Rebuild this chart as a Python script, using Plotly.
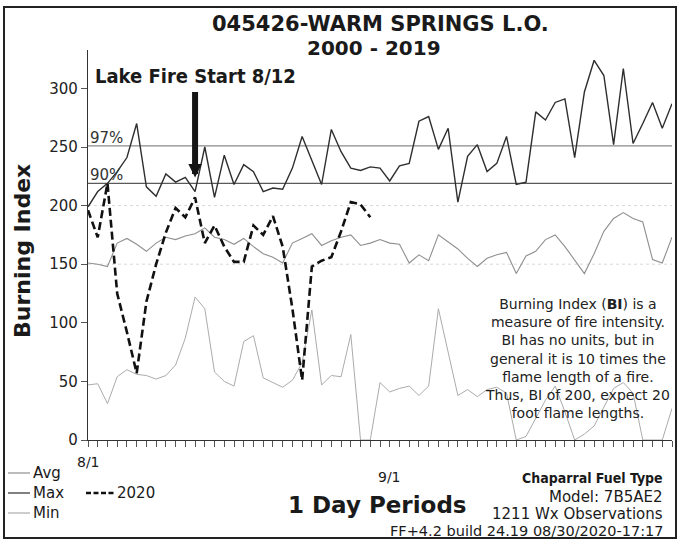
import plotly.graph_objects as go
import pandas as pd

# ---------------- data ----------------
dates = pd.date_range("2020-08-01", "2020-09-30", freq="D")

max_vals = [199, 212, 219, 229, 241, 270, 216, 208, 227, 220, 224, 212, 250, 207, 243,
            218, 235, 229, 212, 215, 214, 232, 259, 239, 218, 265, 246, 232, 230, 233,
            232, 221, 234, 236, 272, 276, 248, 266, 203, 242, 252, 229, 236, 259, 218,
            220, 280, 273, 288, 291, 241, 297, 324, 311, 252, 317, 253, 270, 288, 266, 287]

avg_vals = [151, 150, 148, 168, 172, 167, 161, 168, 173, 171, 174, 176, 181, 173, 171,
            167, 172, 165, 159, 156, 151, 168, 172, 176, 166, 170, 173, 175, 166, 168,
            171, 168, 167, 151, 158, 153, 175, 169, 163, 155, 148, 155, 158, 160, 142,
            157, 161, 171, 175, 165, 154, 142, 159, 178, 189, 194, 189, 186, 154, 151, 173]

min_vals = [47, 48, 31, 54, 60, 56, 55, 52, 55, 64, 87, 122, 112, 58, 50,
            46, 84, 89, 53, 49, 45, 51, 66, 111, 47, 55, 54, 90, 0, 0,
            49, 41, 44, 46, 38, 46, 112, 75, 38, 43, 37, 43, 45, 40, 0,
            3, 18, 34, 46, 24, 0, 5, 12, 28, 44, 49, 40, 0, 0, 0, 27]

bi_2020 = [196, 173, 219, 125, 92, 57, 118, 150, 177, 198, 190, 207, 168, 183, 165,
           152, 152, 183, 175, 191, 165, 112, 51, 148, 153, 156, 178, 203, 201, 190]

pct97 = 251
pct90 = 219
grid_levels = [150, 200]
y_ticks = [0, 50, 100, 150, 200, 250, 300]
x_labels = [("2020-08-01", "8/1"), ("2020-09-01", "9/1")]
fire_start = "2020-08-12"

info_lines = ["Burning Index (<b>BI</b>) is a", "measure of fire intensity.",
              "BI has no units, but in", "general it is 10 times the",
              "flame length of a fire.", "Thus, BI of 200, expect 20",
              "foot flame lengths."]

# ---------------- layout helpers ----------------
W, H = 679, 540
L, R, T, B = 88, 7, 50, 100
PW, PH = W - L - R, H - T - B
PX_PER_UNIT = 1.172
YMAX = PH / PX_PER_UNIT


def px(x):
    return (x - L) / PW


def py(y):
    return (H - B - y) / PH


SANS = "DejaVu Sans, Verdana, sans-serif"
NARROW = "Liberation Sans Narrow, DejaVu Sans Condensed, Arial Narrow, sans-serif"

fig = go.Figure()

fig.add_trace(go.Scatter(x=dates, y=min_vals, mode="lines", name="Min",
                         line=dict(color="#ababab", width=1), showlegend=False))
fig.add_trace(go.Scatter(x=dates, y=avg_vals, mode="lines", name="Avg",
                         line=dict(color="#8f8f8f", width=1.1), showlegend=False))
fig.add_trace(go.Scatter(x=dates, y=max_vals, mode="lines", name="Max",
                         line=dict(color="#2e2e2e", width=1.4), showlegend=False))
fig.add_trace(go.Scatter(x=dates[:len(bi_2020)], y=bi_2020, mode="lines", name="2020",
                         line=dict(color="#111111", width=2.6, dash="8px,4px"),
                         showlegend=False))

shapes = []
# percentile lines
shapes.append(dict(type="line", xref="paper", yref="y", x0=0, x1=1, y0=pct97, y1=pct97,
                   line=dict(color="#8a8a8a", width=1.2), layer="below"))
shapes.append(dict(type="line", xref="paper", yref="y", x0=0, x1=1, y0=pct90, y1=pct90,
                   line=dict(color="#5a5a5a", width=1.2), layer="below"))
for g in grid_levels:
    shapes.append(dict(type="line", xref="paper", yref="y", x0=0, x1=1, y0=g, y1=g,
                       line=dict(color="#d8d8d8", width=1, dash="dot"), layer="below"))

# legend lines
legend_items = [("Avg", "#8f8f8f", 473), ("Max", "#2e2e2e", 493), ("Min", "#ababab", 513)]
for name, col, yy in legend_items:
    shapes.append(dict(type="line", xref="paper", yref="paper", x0=px(8), x1=px(30),
                       y0=py(yy), y1=py(yy), line=dict(color=col, width=1.2)))
shapes.append(dict(type="line", xref="paper", yref="paper", x0=px(86), x1=px(114),
                   y0=py(493), y1=py(493), line=dict(color="#111", width=2.6, dash="5px,2.5px")))

# page frame
shapes.append(dict(type="rect", xref="paper", yref="paper", x0=px(4), x1=px(676),
                   y0=py(538), y1=py(7), line=dict(color="#222", width=2)))

ann = []


def text(t, x, y, size, family=SANS, xanchor="center", yanchor="middle", color="#1a1a1a",
         angle=0, align="center"):
    ann.append(dict(text=t, x=px(x), y=py(y), xref="paper", yref="paper", showarrow=False,
                    xanchor=xanchor, yanchor=yanchor, textangle=angle, align=align,
                    font=dict(family=family, size=size, color=color)))


text("<b>045426-WARM SPRINGS L.O.</b>", 380, 24, 21)
text("<b>2000 - 2019</b>", 374, 47.5, 20)
text("<b>Lake Fire Start 8/12</b>", 195, 76, 20, family=NARROW)
text("<b>Burning Index</b>", 23, 251, 22, angle=-90)
text("<br>".join(info_lines), 577, 358, 14, color="#222")

# percentile labels
for lab, val in (("97%", pct97), ("90%", pct90)):
    ann.append(dict(text=lab, x=dates[0], y=val, xref="x", yref="y", showarrow=False,
                    xanchor="left", yanchor="bottom", xshift=0, yshift=-3,
                    font=dict(family=SANS, size=15, color="#333")))

# fire start arrow
ann.append(dict(text="", x=fire_start, y=pct90 + 5, xref="x", yref="y", showarrow=True,
                ax=0, ay=-87, axref="pixel", ayref="pixel", arrowhead=2, arrowsize=0.45,
                arrowwidth=6, arrowcolor="#151515"))

# date labels
for (d, lab), yy in zip(x_labels, (462, 477)):
    ann.append(dict(text=lab, x=d, y=py(yy), xref="x", yref="paper", showarrow=False,
                    xanchor="center", yanchor="middle",
                    font=dict(family=SANS, size=14, color="#1a1a1a")))

# legend text
for name, col, yy in legend_items:
    text(name, 31, yy, 15, xanchor="left")
text("2020", 115, 493, 15, xanchor="left")

text("<b>1 Day Periods</b>", 377, 505, 23)
text("<b>Chaparral Fuel Type</b>", 665, 478, 14, family=NARROW, xanchor="right")
text("Model: 7B5AE2", 665, 497, 15, xanchor="right")
text("1211 Wx Observations", 665, 514, 15, xanchor="right")
text("FF+4.2 build 24.19 08/30/2020-17:17", 665, 531, 14.5, xanchor="right")

fig.update_layout(
    width=W, height=H,
    margin=dict(l=L, r=R, t=T, b=B, pad=0),
    paper_bgcolor="white", plot_bgcolor="white",
    shapes=shapes, annotations=ann,
    xaxis=dict(range=[dates[0], dates[-1]], showgrid=False, zeroline=False,
               showline=True, linecolor="#333", linewidth=1.2,
               ticks="outside", ticklen=6, tickwidth=1, tickcolor="#555",
               tick0=dates[0], dtick=86400000, showticklabels=False),
    yaxis=dict(range=[0, YMAX], showgrid=False, zeroline=False,
               showline=True, linecolor="#333", linewidth=1.2,
               ticks="outside", ticklen=6, tickwidth=1, tickcolor="#555",
               tickvals=y_ticks, ticktext=[str(v) for v in y_ticks],
               tickfont=dict(family=SANS, size=15, color="#222")),
)

fig.write_html("out.html",
               config={"displayModeBar": False},
               post_script="document.body.style.margin='0px';"
                           "document.body.style.overflow='hidden';")
